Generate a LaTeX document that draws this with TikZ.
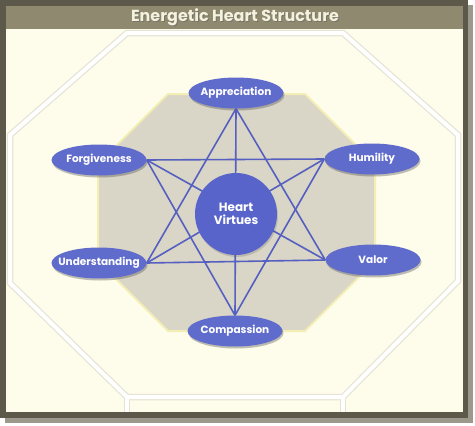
\documentclass[tikz,border=0pt]{standalone}
\usepackage{fontspec}
\setmainfont{Poppins}
\usetikzlibrary{shapes.geometric,shadows}
\definecolor{framedark}{HTML}{5C584A}
\definecolor{frameshadow}{HTML}{9C998C}
\definecolor{headerband}{HTML}{8F8A6F}
\definecolor{creambg}{HTML}{FEFCEA}
\definecolor{octline}{HTML}{E6E4D6}
\definecolor{innerfill}{HTML}{D9D5C7}
\definecolor{innerborder}{HTML}{F3EEB4}
\definecolor{virtueblue}{HTML}{606CCB}
\definecolor{hubblue}{HTML}{5864C9}
\definecolor{linkblue}{HTML}{5560C0}
\definecolor{titlecream}{HTML}{F4F1DD}
\tikzset{
  virtue/.style={ellipse, draw=none, fill=virtueblue, minimum width=95pt, minimum height=31pt, inner sep=0pt,
    drop shadow={shadow xshift=1pt, shadow yshift=-2pt, opacity=0.2, fill=black!70},
    text=white, font=\fontsize{10.5}{12}\selectfont\bfseries},
  hub/.style={circle, fill=hubblue, minimum size=82pt, inner sep=0pt, align=center,
    drop shadow={shadow xshift=1pt, shadow yshift=-2pt, opacity=0.2, fill=black!70},
    text=white, font=\fontsize{12}{12.5}\selectfont\bfseries},
  link/.style={draw=linkblue, line width=1.6pt},
  titletext/.style={text=titlecream, font=\fontsize{16}{18}\selectfont\bfseries}
}
\begin{document}
\begin{tikzpicture}[x=1pt,y=-1pt]
\useasboundingbox (0,0) rectangle (475,426);
% page and frame
\fill[white] (0,0) rectangle (475,426);
\fill[frameshadow] (5,5) rectangle (473,423);
\fill[framedark] (0,0) rectangle (468,418);
\fill[creambg] (6,29) rectangle (463,412);
\fill[headerband] (6,6) rectangle (463,29);
\node[titletext, text=black!60, opacity=0.6] at (236,18.5) {Energetic Heart Structure};
\node[titletext] (title) at (235,17.5) {Energetic Heart Structure};
% outer octagon
\foreach \w/\c in {6.5/octline, 4/white}{
  \draw[line width=\w pt, color=\c, line join=miter]
    (127,33) -- (343,33) -- (458,135) -- (458,281) -- (343,397) -- (127,397) -- (10,283) -- (10,135) -- cycle;
  \draw[line width=\w pt, color=\c] (127,397) -- (127,412) (343,397) -- (343,412);
}
% inner octagon
\filldraw[fill=innerfill, draw=innerborder, line width=2pt]
  (168,94) -- (305,94) -- (375,164) -- (375,261) -- (305,331) -- (168,331) -- (98,261) -- (98,164) -- cycle;
% node positions
\coordinate (pA) at (236,93);
\coordinate (pF) at (99,160);
\coordinate (pH) at (372,159);
\coordinate (pU) at (99,263);
\coordinate (pV) at (373,260);
\coordinate (pC) at (235,331);
% shape nodes (drawn first for anchors)
\node[virtue, fill=none, drop shadow={opacity=0}] (A0) at (pA) {};
\node[virtue, fill=none, drop shadow={opacity=0}] (F0) at (pF) {};
\node[virtue, fill=none, drop shadow={opacity=0}] (H0) at (pH) {};
\node[virtue, fill=none, drop shadow={opacity=0}] (U0) at (pU) {};
\node[virtue, fill=none, drop shadow={opacity=0}] (V0) at (pV) {};
\node[virtue, fill=none, drop shadow={opacity=0}] (C0) at (pC) {};
% links
\draw[link] (A0.south) -- (C0.north);
\draw[link] (A0.south) -- (U0.east);
\draw[link] (A0.south) -- (V0.west);
\draw[link] (C0.north) -- (F0.east);
\draw[link] (C0.north) -- (H0.west);
\draw[link] (F0.east) -- (H0.west);
\draw[link] (U0.east) -- (V0.west);
\draw[link] (F0.east) -- (V0.west);
\draw[link] (H0.west) -- (U0.east);
% hub and virtues
\node[hub] (hub) at (236,214) {Heart\\Virtues};
\node[virtue] (A) at (pA) {\makebox[0pt]{Appreciation}};
\node[virtue] (F) at (pF) {\makebox[0pt]{Forgiveness}};
\node[virtue] (H) at (pH) {\makebox[0pt]{Humility}};
\node[virtue] (U) at (pU) {\makebox[0pt]{Understanding}};
\node[virtue] (V) at (pV) {\makebox[0pt]{Valor}};
\node[virtue] (C) at (pC) {\makebox[0pt]{Compassion}};
\end{tikzpicture}
\end{document}
